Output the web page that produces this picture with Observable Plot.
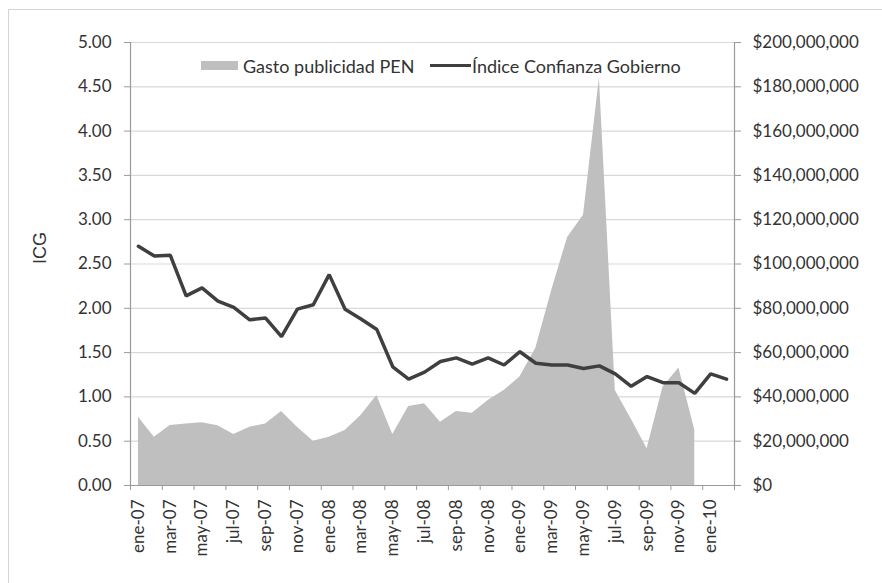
<!DOCTYPE html>
<html>
<head>
<meta charset="utf-8">
<script src="https://cdn.jsdelivr.net/npm/d3@7"></script>
<script src="https://cdn.jsdelivr.net/npm/@observablehq/plot@0.6"></script>
<style>
  html, body { margin: 0; padding: 0; background: #fff; }
  #wrap { position: relative; width: 882px; height: 583px; overflow: hidden; font-family: Lato, "Open Sans", sans-serif; }
  #border { position: absolute; left: 8px; top: 9px; width: 900px; height: 600px; border: 1.5px solid #d4d4d4; box-sizing: border-box; }
  #chart { position: absolute; left: 0; top: 0; }
  .leg { position: absolute; font-size: 18px; color: #333; white-space: nowrap; line-height: 1; }
</style>
</head>
<body>
<div id="wrap">
  <div id="border"></div>
  <div id="chart"></div>
  <div class="leg" style="left:201px;top:61px;width:37px;height:9px;background:#bfbfbf"></div>
  <div class="leg" style="left:243px;top:57px">Gasto publicidad PEN</div>
  <div class="leg" style="left:430px;top:64px;width:41px;height:3px;background:#3f3f3f"></div>
  <div class="leg" style="left:472px;top:57px">Índice Confianza Gobierno</div>
</div>
<script>
// Month categories (ene-07 .. feb-10)
const monthNames = ["ene","feb","mar","abr","may","jun","jul","ago","sep","oct","nov","dic"];
const months = [];
for (const yy of ["07","08","09","10"]) for (const m of monthNames) months.push(m + "-" + yy);
const categories = months.slice(0, 38);

// Índice Confianza Gobierno (left axis)
const icg = [2.70, 2.59, 2.60, 2.14, 2.23, 2.08, 2.01, 1.87, 1.89, 1.68, 1.99, 2.04,
             2.38, 1.99, 1.88, 1.76, 1.34, 1.20, 1.28, 1.40, 1.44, 1.37, 1.44, 1.36,
             1.51, 1.38, 1.36, 1.36, 1.32, 1.35, 1.26, 1.12, 1.23, 1.16, 1.16, 1.04,
             1.26, 1.20];

// Gasto publicidad PEN (right axis, in $)
const gasto = [30.8e6, 21.8e6, 27.1e6, 27.8e6, 28.3e6, 27.0e6, 23.0e6, 26.3e6, 27.8e6, 33.4e6, 26.3e6, 20.0e6,
               21.8e6, 24.8e6, 31.6e6, 40.6e6, 23.0e6, 35.7e6, 36.9e6, 28.6e6, 33.4e6, 32.6e6, 38.4e6, 42.9e6,
               49.0e6, 62.0e6, 88.0e6, 112.0e6, 122.0e6, 184.0e6, 42.9e6, 30.0e6, 16.6e6, 44.4e6, 53.1e6, 25.1e6];

// Tick values
const leftTicks = [0, 0.5, 1, 1.5, 2, 2.5, 3, 3.5, 4, 4.5, 5];
const rightMax = 200e6, leftMax = 5;
const factor = rightMax / leftMax; // $ per ICG unit

const icgData = icg.map((v, i) => ({i, v}));
const gastoData = gasto.map((v, i) => ({i, v: v / factor}));

const xDomain = [-0.5, categories.length - 0.5];
const labelTicks = d3.range(0, categories.length, 2);
const markTicks = d3.range(-0.5, categories.length, 2);

const axisColor = "#9a9a9a";
const textColor = "#333";

const plot = Plot.plot({
  width: 882,
  height: 583,
  marginLeft: 130,
  marginRight: 148,
  marginTop: 42,
  marginBottom: 98,
  style: {fontFamily: "Lato, 'Open Sans', sans-serif", fontSize: "17px", color: textColor, background: "transparent"},
  x: {domain: xDomain, axis: null},
  y: {domain: [0, leftMax], axis: null},
  marks: [
    Plot.gridY(leftTicks, {stroke: "#d9d9d9", strokeOpacity: 1, strokeWidth: 1.2}),
    Plot.areaY(gastoData, {x: "i", y: "v", fill: "#bfbfbf", curve: "linear"}),
    Plot.lineY(icgData, {x: "i", y: "v", stroke: "#3f3f3f", strokeWidth: 3.5, curve: "linear", strokeLinejoin: "miter"}),
    Plot.ruleX([xDomain[0], xDomain[1]], {stroke: axisColor, strokeWidth: 1.2}),
    Plot.ruleY([0], {stroke: axisColor, strokeWidth: 1.2}),
    Plot.axisY({anchor: "left", ticks: leftTicks, tickFormat: d3.format(".2f"), tickSize: 6, tickPadding: 13, label: null, stroke: axisColor, fill: textColor}),
    Plot.axisY({anchor: "right", ticks: leftTicks, tickFormat: d => "$" + d3.format(",")(Math.round(d * factor)), tickSize: 6, tickPadding: 12, label: null, stroke: axisColor, fill: textColor}),
    Plot.axisX({ticks: markTicks, tickSize: 5, tickFormat: () => "", label: null, stroke: axisColor}),
    Plot.axisX({ticks: labelTicks, tickSize: 0, tickRotate: -90, tickPadding: 14, tickFormat: i => categories[i], label: null, fill: textColor}),
    Plot.text(["ICG"], {frameAnchor: "left", dx: -90, rotate: -90, fontSize: 18, fontFamily: "'Liberation Sans', Arial, sans-serif", fill: textColor})
  ]
});
document.getElementById("chart").appendChild(plot);
</script>
</body>
</html>
